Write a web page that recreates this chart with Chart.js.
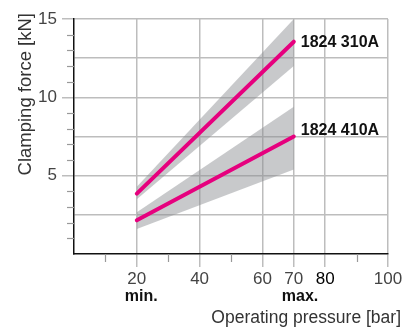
<!DOCTYPE html>
<html>
<head>
<meta charset="utf-8">
<script src="https://cdn.jsdelivr.net/npm/chart.js@4.4.1/dist/chart.umd.min.js"></script>
<style>
  html, body { margin: 0; padding: 0; background: #fff; }
  #wrap { width: 417px; height: 331px; }
</style>
</head>
<body>
<div id="wrap"><canvas id="chart" width="417" height="331"></canvas></div>
<script>
// values
var pressure = [20, 70];
var force310 = [3.85, 13.55];
var band310Upper = [4.3, 15.0];
var band310Lower = [3.5, 12.0];
var force410 = [2.15, 7.5];
var band410Upper = [2.66, 9.4];
var band410Lower = [1.6, 5.4];
var seriesNames = ['1824 310A', '1824 410A'];

var xTickValues = [10, 20, 30, 40, 50, 60, 70, 80, 90, 100];
var xLabelled = [20, 40, 60, 70, 80, 100];
var xMinorTicks = [10, 30, 50, 90];
var xNotes = { 20: 'min.', 70: 'max.' };
var yTickValues = [0, 2.5, 5, 7.5, 10, 12.5, 15];
var yLabelled = [5, 10, 15];
var yMinorTicks = [1, 2, 3, 4, 6, 7, 8, 9, 11, 12, 13, 14];

var xTitle = 'Operating pressure [bar]';
var yTitle = 'Clamping force [kN]';

var magenta = '#e6007e';
var bandColor = 'rgba(140, 142, 146, 0.48)';
var gridColor = '#bdbdbd';
var font = '"Liberation Sans", Arial, sans-serif';

function pts(ys) {
    return pressure.map(function (x, i) { return { x: x, y: ys[i] }; });
}

function bandSet(ys, fill) {
    return {
        data: pts(ys),
        borderWidth: 0,
        pointRadius: 0,
        backgroundColor: bandColor,
        fill: fill,
        order: 2
    };
}

function lineSet(ys) {
    return {
        data: pts(ys),
        borderColor: magenta,
        borderWidth: 4,
        borderCapStyle: 'round',
        pointRadius: 0,
        fill: false,
        order: 0
    };
}

var extras = {
    id: 'extras',
    afterDraw: function (chart) {
        var ctx = chart.ctx;
        var xs = chart.scales.x;
        var ys = chart.scales.y;
        var area = chart.chartArea;
        ctx.save();

        // short minor ticks
        ctx.strokeStyle = '#999';
        ctx.lineWidth = 1.2;
        xMinorTicks.forEach(function (v) {
            var px = Math.round(xs.getPixelForValue(v)) + 0.5;
            ctx.beginPath();
            ctx.moveTo(px, area.bottom);
            ctx.lineTo(px, area.bottom + 8);
            ctx.stroke();
        });
        yMinorTicks.forEach(function (v) {
            var py = Math.round(ys.getPixelForValue(v)) + 0.5;
            ctx.beginPath();
            ctx.moveTo(area.left - 7, py);
            ctx.lineTo(area.left, py);
            ctx.stroke();
        });

        // min. / max. notes, left aligned under the tick label
        ctx.fillStyle = '#111';
        ctx.font = 'bold 16px ' + font;
        ctx.textAlign = 'left';
        ctx.textBaseline = 'alphabetic';
        Object.keys(xNotes).forEach(function (k) {
            ctx.fillText(xNotes[k], xs.getPixelForValue(+k) - 12, 301);
        });

        // series labels at line ends
        var offsets = [5, -2];
        [4, 5].forEach(function (di, i) {
            var meta = chart.getDatasetMeta(di);
            var last = meta.data[meta.data.length - 1];
            ctx.fillText(seriesNames[i], last.x + 7, last.y + offsets[i]);
        });

        // axis titles
        ctx.fillStyle = '#333';
        ctx.font = '17.5px ' + font;
        ctx.textAlign = 'right';
        ctx.fillText(xTitle, 401, 323);

        ctx.font = '18.5px ' + font;
        ctx.translate(31, 13);
        ctx.rotate(-Math.PI / 2);
        ctx.textAlign = 'right';
        ctx.fillText(yTitle, 0, 0);
        ctx.restore();
    }
};

new Chart(document.getElementById('chart').getContext('2d'), {
    type: 'line',
    data: {
        datasets: [
            bandSet(band310Upper, false),
            bandSet(band310Lower, 0),
            bandSet(band410Upper, false),
            bandSet(band410Lower, 2),
            lineSet(force310),
            lineSet(force410)
        ]
    },
    options: {
        responsive: false,
        animation: false,
        layout: { padding: { top: 19, right: 29, left: 0, bottom: 0 } },
        plugins: {
            legend: { display: false },
            tooltip: { enabled: false }
        },
        scales: {
            x: {
                type: 'linear',
                min: 0,
                max: 100,
                afterBuildTicks: function (s) {
                    s.ticks = xTickValues.map(function (v) { return { value: v }; });
                },
                afterFit: function (s) { s.height = 77; },
                border: { color: '#111', width: 1.5 },
                grid: {
                    color: function (c) {
                        return xLabelled.indexOf(c.tick.value) >= 0 ? gridColor : 'rgba(0,0,0,0)';
                    },
                    tickColor: function (c) {
                        return xLabelled.indexOf(c.tick.value) >= 0 ? gridColor : 'rgba(0,0,0,0)';
                    },
                    lineWidth: 1.5,
                    tickLength: 13
                },
                ticks: {
                    autoSkip: false,
                    maxRotation: 0,
                    padding: 2,
                    font: { family: font, size: 17 },
                    color: function (c) {
                        return c.tick.value === 80 ? '#000' : '#444';
                    },
                    callback: function (v) {
                        return xLabelled.indexOf(v) >= 0 ? String(v) : '';
                    }
                }
            },
            y: {
                type: 'linear',
                min: 0,
                max: 15,
                afterBuildTicks: function (s) {
                    s.ticks = yTickValues.map(function (v) { return { value: v }; });
                },
                afterFit: function (s) { s.width = 74; },
                border: { color: '#111', width: 1.5 },
                grid: {
                    color: function (c) {
                        return c.tick.value === 0 ? 'rgba(0,0,0,0)' : gridColor;
                    },
                    tickColor: function (c) {
                        return yLabelled.indexOf(c.tick.value) >= 0 ? gridColor : 'rgba(0,0,0,0)';
                    },
                    lineWidth: 1.5,
                    tickLength: 12
                },
                ticks: {
                    autoSkip: false,
                    padding: 5,
                    font: { family: font, size: 17 },
                    color: '#444',
                    callback: function (v) {
                        return yLabelled.indexOf(v) >= 0 ? String(v) : '';
                    }
                }
            }
        }
    },
    plugins: [extras]
});
</script>
</body>
</html>
